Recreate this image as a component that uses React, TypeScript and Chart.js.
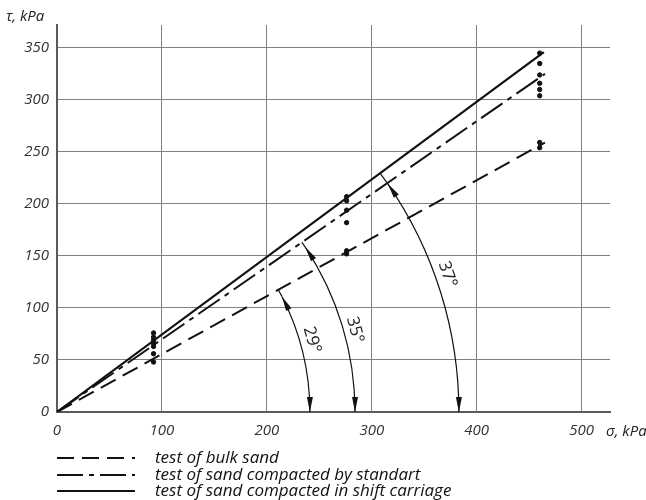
import React, { useEffect, useRef } from "react";
import { Chart, registerables } from "chart.js";
Chart.register(...registerables);

// ---- data ----
const xTickValues = [0, 100, 200, 300, 400, 500];
const yTickValues = [0, 50, 100, 150, 200, 250, 300, 350];

const bulkLine = [{ x: 0, y: 0 }, { x: 465, y: 259 }];
const standardLine = [{ x: 0, y: 0 }, { x: 465, y: 325 }];
const shiftLine = [{ x: 0, y: 0 }, { x: 464, y: 346 }];

const sigmaGroups = [92, 276, 460];
const tauAt92 = [76, 72, 69, 66, 63, 56, 48];
const tauAt276 = [207, 203, 194, 182, 155, 152];
const tauAt460 = [345, 335, 324, 316, 310, 304, 259, 254];

const angleLabels = ["29°", "35°", "37°"];
const arcRadius = [241, 284, 383]; // in sigma units
const arcTipDeg = [27.2, 33.6, 34.6];
const labelAngleDeg = [15.8, 15.4, 19.4];
const labelOffset = [12, 11, 12];

const legendLabels = [
  "test of bulk sand",
  "test of sand compacted by standart",
  "test of sand compacted in shift carriage",
];

const X_MAX = 527;
const Y_MAX = 372;

const dashBulk = [17, 8];
const dashStd = [26, 6, 5, 6];

const tickFont = { family: "'Open Sans', sans-serif", size: 15, style: "italic" as const };

function buildPoints() {
  const pts: { x: number; y: number }[] = [];
  tauAt92.forEach((v) => pts.push({ x: sigmaGroups[0], y: v }));
  tauAt276.forEach((v) => pts.push({ x: sigmaGroups[1], y: v }));
  tauAt460.forEach((v) => pts.push({ x: sigmaGroups[2], y: v }));
  return pts;
}

function arrowHead(ctx: CanvasRenderingContext2D, tx: number, ty: number, dx: number, dy: number, len = 15, hw = 3) {
  const n = Math.hypot(dx, dy);
  const ux = dx / n, uy = dy / n;
  const bx = tx - ux * len, by = ty - uy * len;
  ctx.beginPath();
  ctx.moveTo(tx, ty);
  ctx.lineTo(bx - uy * hw, by + ux * hw);
  ctx.lineTo(bx + uy * hw, by - ux * hw);
  ctx.closePath();
  ctx.fill();
}

const decorPlugin = {
  id: "decor",
  afterDraw(chart: any) {
    const ctx: CanvasRenderingContext2D = chart.ctx;
    const xs = chart.scales.x, ys = chart.scales.y;
    const x0 = xs.getPixelForValue(0), y0 = ys.getPixelForValue(0);
    const lines = [bulkLine, standardLine, shiftLine];
    ctx.save();
    ctx.strokeStyle = "#111";
    ctx.fillStyle = "#111";
    ctx.lineWidth = 1.2;
    ctx.setLineDash([]);
    for (let i = 0; i < 3; i++) {
      const r = xs.getPixelForValue(arcRadius[i]) - x0;
      const th = (arcTipDeg[i] * Math.PI) / 180;
      ctx.beginPath();
      ctx.arc(x0, y0, r, -th, 0, false);
      ctx.stroke();
      const tx = x0 + r * Math.cos(th), ty = y0 - r * Math.sin(th);
      arrowHead(ctx, tx, ty, -Math.sin(th), -Math.cos(th));
      arrowHead(ctx, x0 + r, y0, 0, 1);
      const end = lines[i][1];
      const ex = xs.getPixelForValue(end.x) - x0, ey = y0 - ys.getPixelForValue(end.y);
      const phi = Math.atan2(ey, ex);
      const t = (tx - x0) * Math.cos(phi) + (y0 - ty) * Math.sin(phi);
      ctx.beginPath();
      ctx.moveTo(tx, ty);
      ctx.lineTo(x0 + t * Math.cos(phi), y0 - t * Math.sin(phi));
      ctx.stroke();
      const a = (labelAngleDeg[i] * Math.PI) / 180;
      const rl = r + labelOffset[i];
      ctx.save();
      ctx.translate(x0 + rl * Math.cos(a), y0 - rl * Math.sin(a));
      ctx.rotate(Math.PI / 2 - a);
      ctx.font = "17px 'Open Sans', sans-serif";
      ctx.textAlign = "center";
      ctx.textBaseline = "middle";
      ctx.fillStyle = "#222";
      ctx.fillText(angleLabels[i], 0, 0);
      ctx.restore();
    }
    ctx.font = "italic 15px 'Open Sans', sans-serif";
    ctx.fillStyle = "#222";
    ctx.textBaseline = "middle";
    ctx.textAlign = "left";
    ctx.fillText("τ, kPa", 6, 17);
    ctx.fillText("σ, kPa", 606, 432);
    const rows = [458, 475, 491];
    const dashes = [dashBulk, dashStd, []];
    ctx.font = "italic 17px 'Open Sans', sans-serif";
    for (let i = 0; i < 3; i++) {
      ctx.lineWidth = 2;
      ctx.setLineDash(dashes[i]);
      ctx.beginPath();
      ctx.moveTo(57, rows[i]);
      ctx.lineTo(135, rows[i]);
      ctx.stroke();
      ctx.setLineDash([]);
      ctx.fillStyle = "#111";
      ctx.fillText(legendLabels[i], 155, rows[i]);
    }
    ctx.restore();
  },
};

export default function App() {
  const ref = useRef<HTMLCanvasElement | null>(null);
  useEffect(() => {
    if (!ref.current) return;
    const chart = new Chart(ref.current, {
      type: "line",
      data: {
        datasets: [
          {
            label: legendLabels[0],
            data: bulkLine,
            borderColor: "#111",
            borderWidth: 2,
            borderDash: dashBulk,
            pointRadius: 0,
            fill: false,
          },
          {
            label: legendLabels[1],
            data: standardLine,
            borderColor: "#111",
            borderWidth: 2,
            borderDash: dashStd,
            pointRadius: 0,
            fill: false,
          },
          {
            label: legendLabels[2],
            data: shiftLine,
            borderColor: "#111",
            borderWidth: 2.2,
            pointRadius: 0,
            fill: false,
          },
          {
            type: "scatter",
            label: "measurements",
            data: buildPoints(),
            pointRadius: 2.2,
            pointBackgroundColor: "#111",
            pointBorderColor: "#111",
            showLine: false,
          } as any,
        ],
      },
      options: {
        responsive: false,
        animation: false,
        devicePixelRatio: 1,
        layout: { padding: { left: 8, top: 25, right: 36, bottom: 58 } },
        plugins: { legend: { display: false }, tooltip: { enabled: false }, title: { display: false } },
        scales: {
          x: {
            type: "linear",
            min: 0,
            max: X_MAX,
            afterBuildTicks: (s: any) => {
              s.ticks = xTickValues.map((v) => ({ value: v }));
            },
            afterFit: (s: any) => {
              s.height = 30;
            },
            grid: { color: "#808080", lineWidth: 1, drawTicks: false },
            border: { display: true, color: "#5a5a5a", width: 2 },
            ticks: { padding: 10, color: "#333", font: tickFont, maxRotation: 0, autoSkip: false },
          },
          y: {
            type: "linear",
            min: 0,
            max: Y_MAX,
            afterBuildTicks: (s: any) => {
              s.ticks = yTickValues.map((v) => ({ value: v }));
            },
            afterFit: (s: any) => {
              s.width = 49;
            },
            grid: { color: "#808080", lineWidth: 1, drawTicks: false },
            border: { display: true, color: "#5a5a5a", width: 2 },
            ticks: { padding: 8, color: "#333", font: tickFont, autoSkip: false },
          },
        },
      },
      plugins: [decorPlugin],
    } as any);
    return () => chart.destroy();
  }, []);
  return (
    <div style={{ position: "absolute", left: 0, top: 0, width: 646, height: 500, background: "#fff" }}>
      <canvas ref={ref} width={646} height={500} style={{ width: 646, height: 500 }} />
    </div>
  );
}
